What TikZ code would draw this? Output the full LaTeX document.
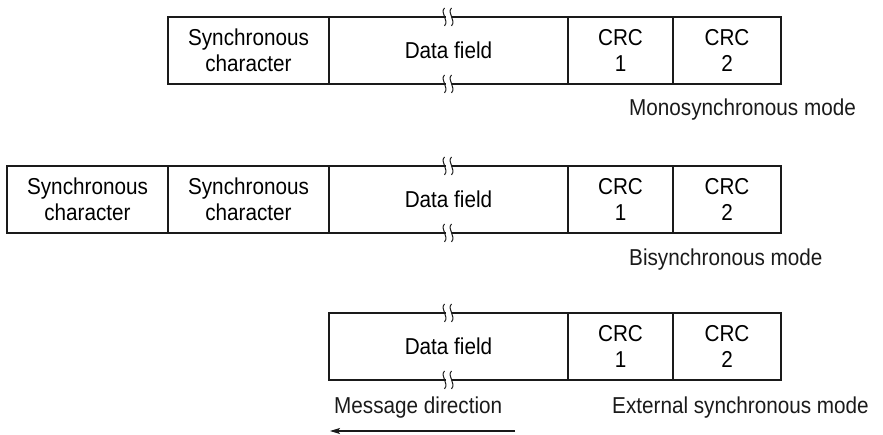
\documentclass[tikz,border=0pt]{standalone}
\usepackage{fontspec}
\usepackage{tikz}
\usetikzlibrary{arrows.meta,positioning}
\newfontfamily\framefam[FakeStretch=0.9]{Liberation Sans}
\newcommand{\framefont}{\framefam\fontsize{23}{26}\selectfont}
\definecolor{ink}{HTML}{1A1A1A}

\tikzset{
  brk/.pic={
    \fill[white] (-3,-2.5) rectangle (3,2.5);
    \draw[ink, line width=1pt] (-4,-9) .. controls (-9,-4) and (1,3) .. (-4,9);
    \draw[ink, line width=1pt] (3,-9) .. controls (-2,-4) and (8,3) .. (3,9);
  }
}

\begin{document}
\begin{tikzpicture}[
  x=1pt, y=-1pt,
  node distance=0pt,
  cell/.style={draw=ink, line width=1.3pt, minimum height=67pt, inner sep=0pt, outer sep=0pt, align=center, font=\framefont},
  sync/.style={cell, minimum width=161pt},
  data/.style={cell, minimum width=239pt},
  crca/.style={cell, minimum width=105pt},
  crcb/.style={cell, minimum width=108pt},
  mode/.style={font=\framefont, inner sep=0pt, anchor=west, text=ink},
  arr/.style={-{Stealth[length=10pt,width=6pt,inset=2pt]}, line width=1.1pt, ink}
]
  \useasboundingbox (0,0) rectangle (883,435);

  % monosynchronous
  \node[sync, anchor=north west] (s1) at (168,17) {Synchronous\\character};
  \node[data, right=of s1] (d1) {Data field};
  \node[crca, right=of d1] (c1a) {CRC\\1};
  \node[crcb, right=of c1a] (c1b) {CRC\\2};
  \node[mode] (m1) at (629,110) {Monosynchronous mode};

  % bisynchronous
  \node[sync, anchor=north west] (s2a) at (7,166) {Synchronous\\character};
  \node[sync, right=of s2a] (s2b) {Synchronous\\character};
  \node[data, right=of s2b] (d2) {Data field};
  \node[crca, right=of d2] (c2a) {CRC\\1};
  \node[crcb, right=of c2a] (c2b) {CRC\\2};
  \node[mode] (m2) at (629,260) {Bisynchronous mode};

  % external synchronous
  \node[data, anchor=north west] (d3) at (329,313) {Data field};
  \node[crca, right=of d3] (c3a) {CRC\\1};
  \node[crcb, right=of c3a] (c3b) {CRC\\2};
  \node[mode] (m3) at (612,408) {External synchronous mode};

  % breaks in the data field
  \foreach \n in {d1,d2,d3} {
    \pic at (\n.north) {brk};
    \pic at (\n.south) {brk};
  }

  % direction
  \node[mode] (dir) at (334,408) {Message direction};
  \coordinate (tail) at (515,431);
  \coordinate (head) at (330,431);
  \draw[arr] (tail) -- (head);
\end{tikzpicture}
\end{document}
